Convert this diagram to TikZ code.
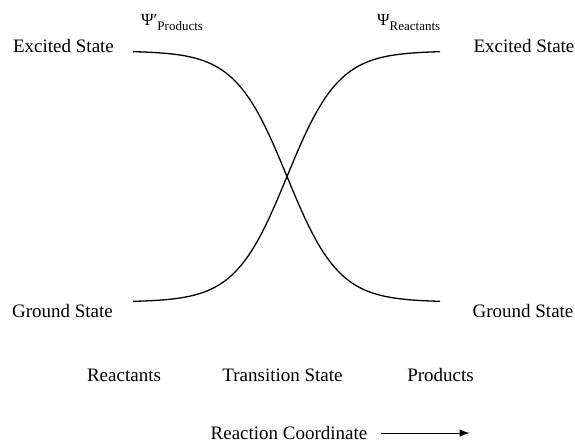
\documentclass[tikz,border=0pt]{standalone}
\usepackage{fontspec}
\setmainfont{Liberation Serif}
\usepackage{tikz}
\usetikzlibrary{positioning}
\usetikzlibrary{arrows.meta}
\tikzset{>=latex}
\tikzset{
  statelabel/.style={font=\fontsize{19}{22}\selectfont,inner sep=0},
  psilabel/.style={font=\fontsize{17}{19}\selectfont,inner sep=0,anchor=base west},
  orbital/.style={line width=1.3pt},
  axisarrow/.style={-{Latex[length=10pt,width=7.5pt]},line width=0.9pt},
}
\newcommand{\psisub}[1]{\raisebox{-5pt}{\fontsize{13}{15}\selectfont #1}}

\begin{document}
\begin{tikzpicture}[x=1pt,y=-1pt]
    \useasboundingbox (0,0) rectangle (575,447);
    \node[statelabel] (ESl) at (63.5,46) {Excited State};
    \node[statelabel] (ESr) at (524,46) {Excited State};
    \node[statelabel] (GSl) at (62.5,311) {Ground State};
    \node[statelabel] (GSr) at (523,311) {Ground State};
    \node[psilabel] (psiP) at (141,25) {Ψ′\psisub{Products}};
    \node[psilabel] (psiR) at (377,25) {Ψ\psisub{Reactants}};
    \draw[orbital] plot[domain=133:440,samples=120,smooth] (\x,{176.5-125.5*tanh((\x-287)/52)});
    \draw[orbital] plot[domain=133:440,samples=120,smooth] (\x,{176.5+125.5*tanh((\x-287)/52)});
    \node[statelabel] (reac) at (124,375) {Reactants};
    \node[statelabel] (TS) at (282.5,375) {Transition State};
    \node[statelabel] (prod) at (440.5,375) {Products};
    \node[statelabel] (RC) at (289,433) {Reaction Coordinate};
    \coordinate[right=13pt of RC.east] (rcA);
    \coordinate[right=89pt of rcA] (rcB);
    \draw[axisarrow] (rcA) -- (rcB);
  \end{tikzpicture}
\end{document}
